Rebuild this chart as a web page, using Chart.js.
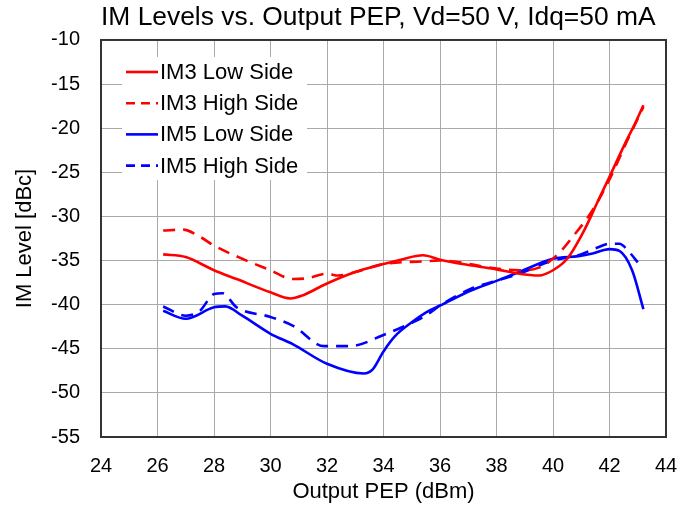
<!DOCTYPE html>
<html lang="en">
  <head>
    <meta charset="UTF-8" />
    <title>IM Levels vs. Output PEP</title>
    <script src="https://cdn.jsdelivr.net/npm/chart.js"></script>
    <style>
      body { margin: 0; background: #ffffff; }
      .wrap { width: 695px; height: 505px; }
    </style>
  </head>
  <body>
    <div class="wrap"><canvas id="imChart" width="695" height="505"></canvas></div>

    <script>
      // values
      const im3LowX  = [26.2, 27.0, 28.0, 28.8, 30.0, 30.7, 31.1, 32.0, 33.0, 34.0, 34.6, 35.4, 36.0, 36.8, 38.0, 38.8, 39.5, 40.0, 40.5, 41.1, 41.6, 42.0, 42.6, 42.9, 43.2];
      const im3LowY  = [-34.3, -34.6, -36.1, -37.1, -38.6, -39.3, -39.0, -37.6, -36.3, -35.4, -34.9, -34.4, -34.9, -35.4, -36.0, -36.5, -36.7, -36.1, -34.8, -31.6, -28.2, -25.5, -21.4, -19.5, -17.4];
      const im3HighX = [26.2, 26.9, 27.5, 28.0, 29.0, 30.0, 30.8, 31.3, 32.0, 32.4, 33.0, 34.0, 35.4, 36.0, 38.0, 38.8, 39.5, 40.2, 40.7, 41.4, 42.0, 42.6, 43.2];
      const im3HighY = [-31.6, -31.5, -32.3, -33.3, -34.8, -36.1, -37.1, -37.0, -36.5, -36.7, -36.3, -35.4, -35.1, -35.0, -35.9, -36.1, -35.8, -34.2, -32.3, -29.3, -25.8, -21.6, -17.6];
      const im5LowX  = [26.2, 27.0, 28.0, 28.4, 29.0, 30.0, 30.8, 32.0, 33.3, 33.6, 34.0, 34.4, 35.0, 35.6, 36.0, 37.1, 38.0, 38.8, 40.0, 40.9, 41.4, 42.0, 42.35, 42.8, 43.2];
      const im5LowY  = [-40.7, -41.6, -40.3, -40.2, -41.25, -43.3, -44.5, -46.7, -47.8, -47.4, -45.3, -43.6, -42.0, -40.7, -40.1, -38.4, -37.3, -36.3, -34.8, -34.5, -34.2, -33.7, -33.9, -36.1, -40.5];
      const im5HighX = [26.2, 27.0, 27.5, 28.0, 28.3, 28.8, 30.0, 30.8, 31.9, 32.8, 34.1, 34.9, 35.5, 36.0, 37.1, 38.0, 38.8, 40.0, 40.9, 41.6, 42.0, 42.35, 42.7, 43.0];
      const im5HighY = [-40.2, -41.25, -40.7, -38.8, -38.7, -40.3, -41.4, -42.4, -44.7, -44.7, -43.3, -42.2, -41.25, -40.1, -38.2, -37.3, -36.5, -35.0, -34.4, -33.5, -33.1, -33.1, -34.05, -35.2];

      const seriesNames = ['IM3 Low Side', 'IM3 High Side', 'IM5 Low Side', 'IM5 High Side'];
      const xTicks = [24, 26, 28, 30, 32, 34, 36, 38, 40, 42, 44];
      const yTicks = [-55, -50, -45, -40, -35, -30, -25, -20, -15, -10];

      const FONT = "'Liberation Sans', Arial, sans-serif";

      function pts(xs, ys) {
        return xs.map((x, i) => ({ x: x, y: ys[i] }));
      }

      function series(label, xs, ys, color, dashed) {
        return {
          label: label,
          data: pts(xs, ys),
          borderColor: color,
          backgroundColor: color,
          borderWidth: 2.6,
          borderDash: dashed ? [12, 8] : [],
          pointRadius: 0,
          cubicInterpolationMode: 'monotone',
          fill: false
        };
      }

      // legend box inside the plot, top left
      const insideLegend = {
        id: 'insideLegend',
        beforeDatasetsDraw(chart) {
          const ctx = chart.ctx;
          const area = chart.chartArea;
          const x0 = area.left + 21, y0 = area.top + 17;
          ctx.save();
          ctx.fillStyle = '#ffffff';
          ctx.fillRect(x0, y0, 185, 123);
          ctx.font = '22px ' + FONT;
          ctx.textBaseline = 'middle';
          chart.data.datasets.forEach((ds, i) => {
            const y = y0 + 15 + i * 31.2;
            ctx.strokeStyle = ds.borderColor;
            ctx.lineWidth = 2.6;
            ctx.setLineDash(ds.borderDash.length ? [9, 6] : []);
            ctx.beginPath();
            ctx.moveTo(x0 + 4, y);
            ctx.lineTo(x0 + 36, y);
            ctx.stroke();
            ctx.setLineDash([]);
            ctx.fillStyle = '#000000';
            ctx.fillText(ds.label, x0 + 38, y + 1);
          });
          ctx.restore();
        },
        afterDatasetsDraw(chart) {
          const ctx = chart.ctx;
          const a = chart.chartArea;
          ctx.save();
          ctx.strokeStyle = '#333333';
          ctx.lineWidth = 2;
          ctx.strokeRect(a.left, a.top, a.right - a.left, a.bottom - a.top);
          ctx.restore();
        }
      };

      const ctx = document.getElementById('imChart').getContext('2d');
      new Chart(ctx, {
        type: 'line',
        data: {
          datasets: [
            series(seriesNames[0], im3LowX, im3LowY, '#ff0000', false),
            series(seriesNames[1], im3HighX, im3HighY, '#ff0000', true),
            series(seriesNames[2], im5LowX, im5LowY, '#0000ff', false),
            series(seriesNames[3], im5HighX, im5HighY, '#0000ff', true)
          ]
        },
        options: {
          responsive: false,
          animation: false,
          layout: { padding: { left: 0, right: 29, top: 0, bottom: 0 } },
          plugins: {
            legend: { display: false },
            tooltip: { enabled: false },
            title: {
              display: true,
              fullSize: false,
              align: 'start',
              text: 'IM Levels vs. Output PEP, Vd=50 V, Idq=50 mA',
              color: '#000000',
              font: { family: FONT, size: 26.4, weight: 'normal' },
              padding: { top: 2, bottom: 6.3 }
            }
          },
          scales: {
            x: {
              type: 'linear',
              min: 24,
              max: 44,
              afterBuildTicks: (s) => { s.ticks = xTicks.map(v => ({ value: v })); },
              afterFit: (s) => { s.height = 68; },
              grid: { color: '#aaaaaa', lineWidth: 1, drawTicks: false },
              border: { color: '#333333', width: 2 },
              ticks: { color: '#000000', padding: 17, font: { family: FONT, size: 20 } },
              title: {
                display: true,
                text: 'Output PEP (dBm)',
                color: '#000000',
                font: { family: FONT, size: 22 },
                padding: { top: 1, bottom: 0 }
              }
            },
            y: {
              type: 'linear',
              min: -55,
              max: -10,
              afterBuildTicks: (s) => { s.ticks = yTicks.map(v => ({ value: v })); },
              afterFit: (s) => { s.width = 101; },
              grid: { color: '#aaaaaa', lineWidth: 1, drawTicks: false },
              border: { color: '#333333', width: 2 },
              ticks: { color: '#000000', padding: 21, font: { family: FONT, size: 20 } },
              title: {
                display: true,
                text: 'IM Level [dBc]',
                color: '#000000',
                font: { family: FONT, size: 22 },
                padding: { top: 12, bottom: 0 }
              }
            }
          }
        },
        plugins: [insideLegend]
      });
    </script>
  </body>
</html>
